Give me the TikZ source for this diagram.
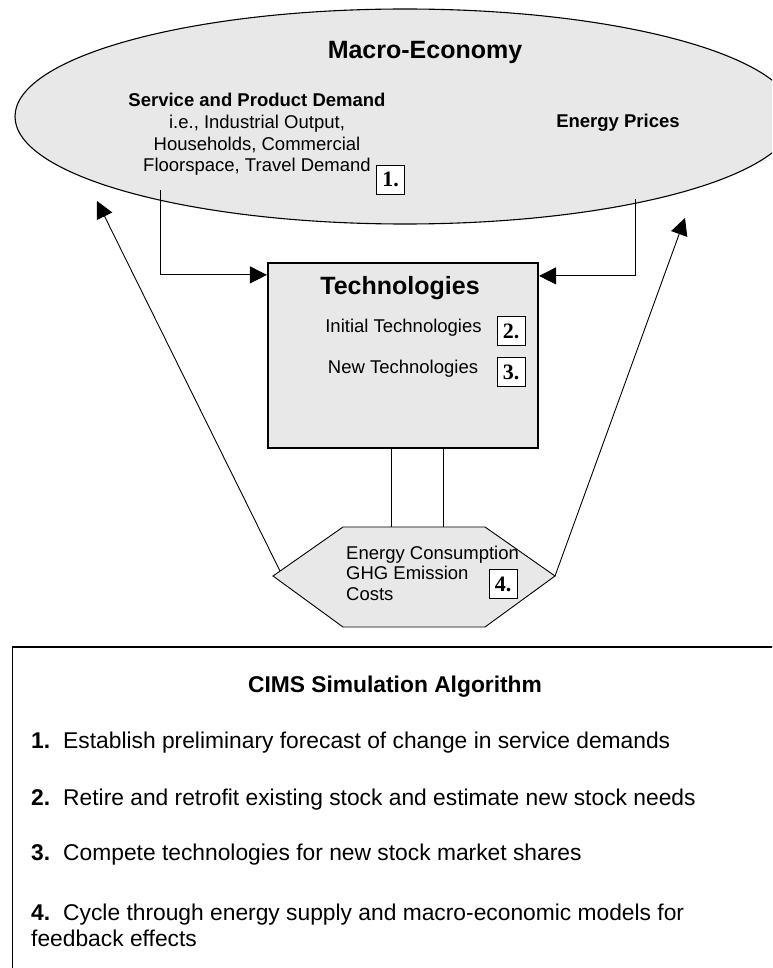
\documentclass[tikz,border=0pt]{standalone}
\usepackage{fontspec}
\setmainfont{Liberation Sans}
\newfontfamily\numfont{Liberation Serif}
\usetikzlibrary{shapes.geometric,arrows.meta,calc}
\definecolor{lightfill}{HTML}{E8E8E8}
\begin{document}
\begin{tikzpicture}[x=1pt,y=-1pt,
  arr/.style={-{Triangle[length=17pt,width=17pt]}, line width=0.9pt},
  thin/.style={line width=0.9pt},
  numbox/.style={draw, line width=0.8pt, fill=white, inner sep=0pt,
    minimum width=28pt, minimum height=29pt,
    font=\numfont\bfseries\fontsize{22}{22}\selectfont},
  txt/.style={inner sep=0pt, font=\fontsize{18.5}{21.7}\selectfont},
  btxt/.style={inner sep=0pt, font=\bfseries\fontsize{18.5}{21.7}\selectfont},
  title/.style={inner sep=0pt, font=\bfseries\fontsize{25}{28}\selectfont},
  item/.style={inner sep=0pt, anchor=west, align=left, font=\fontsize{22.8}{26}\selectfont}
]
\clip (0,0) rectangle (772,968);
\fill[white] (0,0) rectangle (772,968);

% Macro-economy ellipse
\node[ellipse, draw, line width=1.1pt, fill=lightfill, minimum width=780pt,
  minimum height=215pt, inner sep=0pt] (macro) at (405,116.5) {};
\node[title] (macrot) at (425,52) {Macro-Economy};
\node[txt, align=center] (demand) at (257,134.5)
  {\textbf{Service and Product Demand}\\i.e., Industrial Output,\\Households, Commercial\\Floorspace, Travel Demand};
\node[numbox] (n1) at (390.5,179.5) {1.};
\node[btxt] (prices) at (618,123) {Energy Prices};

% Technologies box
\node[draw, line width=2.2pt, fill=lightfill, minimum width=270pt,
  minimum height=185pt, inner sep=0pt] (tech) at (403,355.5) {};
\node[title] (techt) at (400,288) {Technologies};
\node[txt] (initt) at (403.5,328) {Initial Technologies};
\node[numbox] (n2) at (511,331) {2.};
\node[txt] (newt) at (403,369) {New Technologies};
\node[numbox] (n3) at (511,372) {3.};

% connectors from macro-economy to technologies
\coordinate (sL) at (160,190);
\coordinate (sR) at (635,199);
\draw[arr] (sL) |- ($(tech.north west)+(0,13)$);
\draw[arr] (sR) |- ($(tech.north east)+(0,14)$);

% hexagon
\coordinate (hL) at (273,576);
\coordinate (hTL) at (343,527);
\coordinate (hTR) at (485,527);
\coordinate (hR) at (555,576);
\coordinate (hBR) at (485,627);
\coordinate (hBL) at (343,627);
\draw[line width=0.9pt, fill=lightfill] (hL) -- (hTL) -- (hTR) -- (hR) -- (hBR) -- (hBL) -- cycle;
\node[txt, anchor=west, align=left, font=\fontsize{18.5}{20.5}\selectfont] (hext) at (346,573)
  {Energy Consumption\\GHG Emission\\Costs};
\node[numbox] (n4) at (503,584) {4.};

% lines between technologies and hexagon
\coordinate (v1) at (391,527);
\coordinate (v2) at (443,527);
\draw[thin] (tech.south -| v1) -- (v1);
\draw[thin] (tech.south -| v2) -- (v2);

% feedback arrows
\coordinate (hLa) at (280,571);
\coordinate (tipL) at (97,201);
\coordinate (tipR) at (685,218);
\draw[arr] (hLa) -- (tipL);
\draw[arr] (hR) -- (tipR);

% algorithm box
\coordinate (bTL) at (12,647);
\draw[line width=1pt] (12,1000) -- (bTL);
\draw[line width=2pt] (bTL) -- (800,647);
\node[inner sep=0pt, font=\bfseries\fontsize{22.8}{26}\selectfont] (algt) at (395,687) {CIMS Simulation Algorithm};
\node[item] (i1) at (31,743) {\textbf{1.}\hspace{13pt}Establish preliminary forecast of change in service demands};
\node[item] (i2) at (31,800) {\textbf{2.}\hspace{13pt}Retire and retrofit existing stock and estimate new stock needs};
\node[item] (i3) at (31,855) {\textbf{3.}\hspace{13pt}Compete technologies for new stock market shares};
\node[item] (i4) at (31,925) {\textbf{4.}\hspace{13pt}Cycle through energy supply and macro-economic models for\\feedback effects};
\end{tikzpicture}
\end{document}
